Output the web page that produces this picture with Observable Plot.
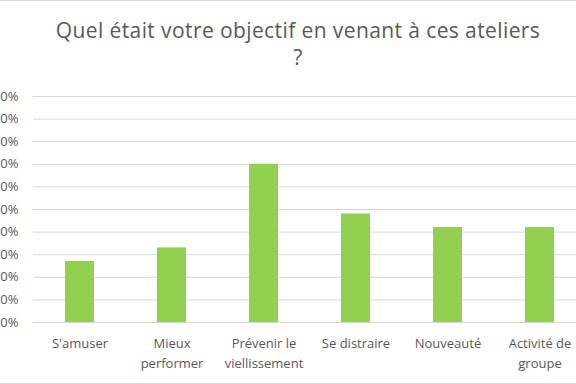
<!DOCTYPE html>
<html>
<head>
<meta charset="utf-8">
<script src="https://cdn.jsdelivr.net/npm/d3@7"></script>
<script src="https://cdn.jsdelivr.net/npm/@observablehq/plot@0.6"></script>
<style>
  html, body { margin: 0; padding: 0; background: #fff; }
  #wrap { position: relative; width: 576px; height: 384px; overflow: hidden; box-sizing: border-box; border-top: 1px solid #d9d9d9; border-bottom: 1px solid #d9d9d9; }
  #title { position: absolute; top: 16px; left: 0; width: 596px; text-align: center; font-family: "Open Sans", sans-serif; font-size: 21px; letter-spacing: 0.4px; line-height: 27px; color: #595959; }
  #chart { position: absolute; top: -1px; left: 0; }
  #chart svg { max-width: none !important; height: 384px !important; }
</style>
</head>
<body>
<div id="wrap">
  <div id="title">Quel était votre objectif en venant à ces ateliers<br>?</div>
  <div id="chart"></div>
</div>
<script>
const categories = ["S'amuser", "Mieux performer", "Prévenir le viellissement", "Se distraire", "Nouveauté", "Activité de groupe"];
const tickLabels = ["S'amuser", "Mieux\nperformer", "Prévenir le\nviellissement", "Se distraire", "Nouveauté", "Activité de\ngroupe"];
const values = [0.27, 0.33, 0.70, 0.48, 0.42, 0.42];
const yTicks = [0, 0.1, 0.2, 0.3, 0.4, 0.5, 0.6, 0.7, 0.8, 0.9, 1.0];

const data = categories.map((c, i) => ({category: c, value: values[i]}));
const labelOf = new Map(categories.map((c, i) => [c, tickLabels[i]]));

const chart = Plot.plot({
  width: 586,
  height: 384,
  marginTop: 96,
  marginBottom: 62,
  marginLeft: 33,
  marginRight: 0,
  style: {fontFamily: "'Open Sans', sans-serif", color: "#595959", background: "transparent", maxWidth: "none"},
  x: {domain: categories, paddingInner: 0.69, paddingOuter: 0.345, label: null},
  y: {domain: [0, 1], label: null},
  marks: [
    Plot.gridY(yTicks, {stroke: "#d9d9d9", strokeOpacity: 1, strokeWidth: 1}),
    Plot.barY(data, {x: "category", y: "value", fill: "#92d050"}),
    Plot.axisY(yTicks, {tickSize: 0, tickPadding: 15, tickFormat: d3.format(".0%"), fontSize: 13, fill: "#595959", label: null}),
    Plot.axisX({tickSize: 0, tickPadding: 11, tickFormat: d => labelOf.get(d), fontSize: 13, lineHeight: 1.55, fill: "#595959", label: null})
  ]
});
document.getElementById("chart").appendChild(chart);
</script>
</body>
</html>
